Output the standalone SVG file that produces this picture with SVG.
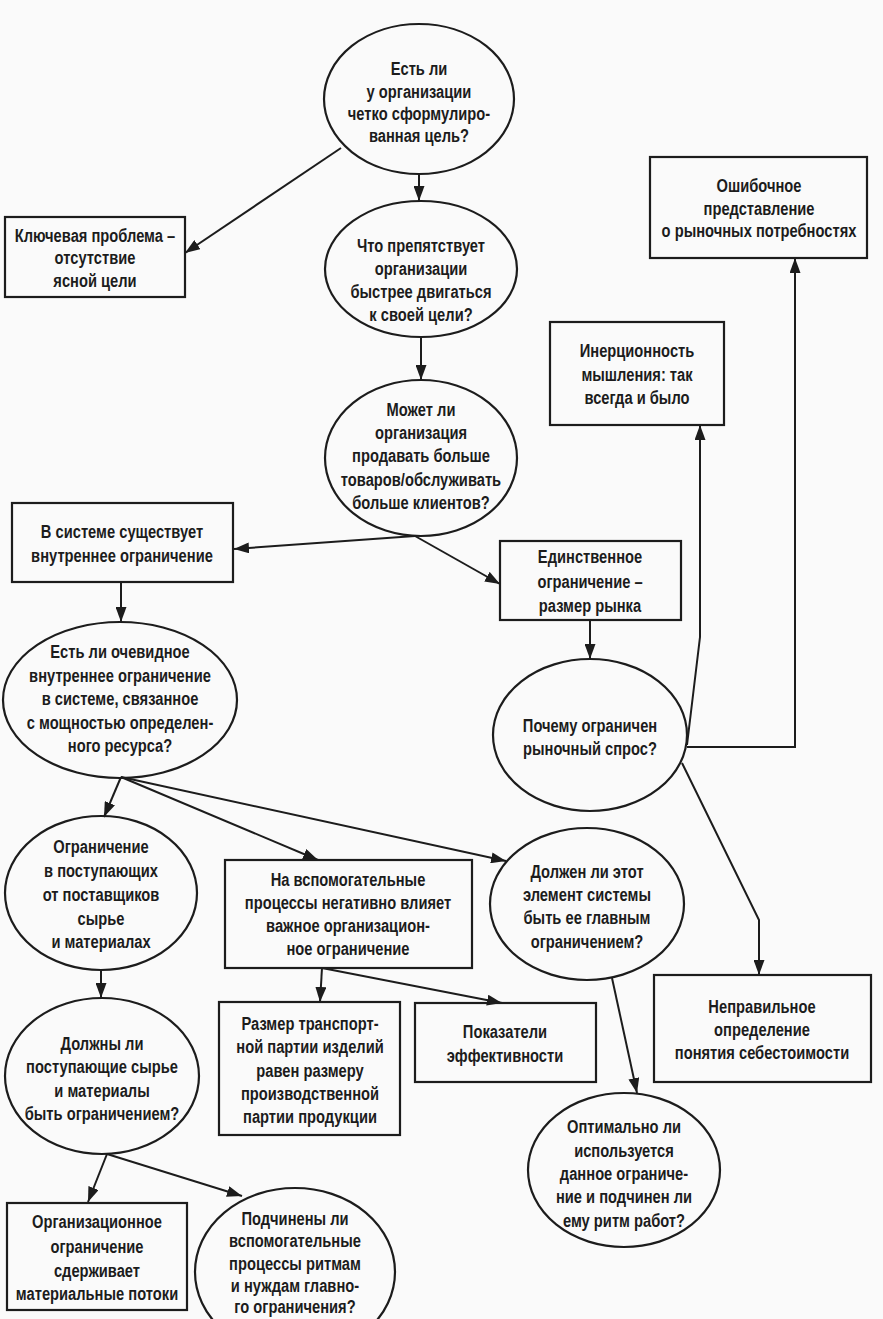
<svg xmlns="http://www.w3.org/2000/svg" width="883" height="1319" viewBox="0 0 883 1319">
<defs>
<marker id="ah" markerUnits="userSpaceOnUse" markerWidth="15" markerHeight="11" refX="15" refY="5.5" orient="auto">
<path d="M0,0 L15,5.5 L0,11 z" fill="#1c1c1c"/>
</marker>
<style>
.s{fill:none;stroke:#1c1c1c;stroke-width:2.2}
.c{fill:none;stroke:#1c1c1c;stroke-width:2;marker-end:url(#ah)}
text{font-family:"Liberation Sans",Arial,sans-serif;font-size:17.5px;font-weight:bold;fill:#1c1c1c;text-anchor:middle}
</style>
</defs>
<rect width="883" height="1319" fill="#fafafa"/>

<g id="connectors">
<path class="c" d="M419,174 L419,201"/>
<path class="c" d="M341,148 L185,253"/>
<path class="c" d="M421,337 L421,380"/>
<path class="c" d="M415,536 L234,549"/>
<path class="c" d="M415,536 L500,584"/>
<path class="c" d="M590,620 L590,659"/>
<path class="c" d="M121,582 L121,622"/>
<path class="c" d="M687,745 L700,637 L700,425"/>
<path class="c" d="M687,747 L795,747 L795,258"/>
<path class="c" d="M682,763 L759,920 L759,975"/>
<path class="c" d="M121,777 L104,817"/>
<path class="c" d="M121,777 L318,860"/>
<path class="c" d="M121,777 L506,861"/>
<path class="c" d="M101,970 L101,998"/>
<path class="c" d="M322,968 L320,1002"/>
<path class="c" d="M322,968 L502,1003"/>
<path class="c" d="M612,978 L637,1093"/>
<path class="c" d="M107,1154 L88,1202"/>
<path class="c" d="M107,1154 L242,1196"/>
</g>

<g id="n1">
<ellipse class="s" cx="419" cy="99" rx="95" ry="75"/>
<g transform="translate(419,0) scale(0.84,1)">
<text x="0" y="75">Есть ли</text>
<text x="0" y="98">у организации</text>
<text x="0" y="120">четко сформулиро-</text>
<text x="0" y="142">ванная цель?</text>
</g>
</g>

<g id="n2">
<ellipse class="s" cx="421" cy="269" rx="96" ry="68"/>
<g transform="translate(421,0) scale(0.84,1)">
<text x="0" y="252">Что препятствует</text>
<text x="0" y="275">организации</text>
<text x="0" y="298">быстрее двигаться</text>
<text x="0" y="321">к своей цели?</text>
</g>
</g>

<g id="n3">
<ellipse class="s" cx="421" cy="458" rx="96" ry="78"/>
<g transform="translate(421,0) scale(0.84,1)">
<text x="0" y="416">Может ли</text>
<text x="0" y="439">организация</text>
<text x="0" y="462">продавать больше</text>
<text x="0" y="486">товаров/обслуживать</text>
<text x="0" y="509">больше клиентов?</text>
</g>
</g>

<g id="key-problem">
<rect class="s" x="5" y="217" width="180" height="80"/>
<g transform="translate(95,0) scale(0.84,1)">
<text x="0" y="242">Ключевая проблема –</text>
<text x="0" y="264">отсутствие</text>
<text x="0" y="287">ясной цели</text>
</g>
</g>

<g id="wrong-market">
<rect class="s" x="650" y="157" width="217" height="101"/>
<g transform="translate(759,0) scale(0.84,1)">
<text x="0" y="192">Ошибочное</text>
<text x="0" y="215">представление</text>
<text x="0" y="237">о рыночных потребностях</text>
</g>
</g>

<g id="inertia">
<rect class="s" x="550" y="322" width="174" height="103"/>
<g transform="translate(637,0) scale(0.84,1)">
<text x="0" y="357">Инерционность</text>
<text x="0" y="381">мышления: так</text>
<text x="0" y="404">всегда и было</text>
</g>
</g>

<g id="internal">
<rect class="s" x="12" y="503" width="221" height="79"/>
<g transform="translate(122,0) scale(0.84,1)">
<text x="0" y="538">В системе существует</text>
<text x="0" y="562">внутреннее ограничение</text>
</g>
</g>

<g id="market-size">
<rect class="s" x="500" y="541" width="181" height="79"/>
<g transform="translate(590,0) scale(0.84,1)">
<text x="0" y="563">Единственное</text>
<text x="0" y="588">ограничение –</text>
<text x="0" y="612">размер рынка</text>
</g>
</g>

<g id="why-demand">
<ellipse class="s" cx="590" cy="735" rx="97" ry="76"/>
<g transform="translate(590,0) scale(0.84,1)">
<text x="0" y="732">Почему ограничен</text>
<text x="0" y="755">рыночный спрос?</text>
</g>
</g>

<g id="n4">
<ellipse class="s" cx="120" cy="700" rx="117" ry="78"/>
<g transform="translate(120,0) scale(0.84,1)">
<text x="0" y="658">Есть ли очевидное</text>
<text x="0" y="682">внутреннее ограничение</text>
<text x="0" y="705">в системе, связанное</text>
<text x="0" y="729">с мощностью определен-</text>
<text x="0" y="752">ного ресурса?</text>
</g>
</g>

<g id="supply">
<ellipse class="s" cx="101" cy="893" rx="96" ry="77"/>
<g transform="translate(101,0) scale(0.84,1)">
<text x="0" y="853">Ограничение</text>
<text x="0" y="877">в поступающих</text>
<text x="0" y="901">от поставщиков</text>
<text x="0" y="925">сырье</text>
<text x="0" y="948">и материалах</text>
</g>
</g>

<g id="support">
<rect class="s" x="225" y="860" width="247" height="108"/>
<g transform="translate(348,0) scale(0.84,1)">
<text x="0" y="886">На вспомогательные</text>
<text x="0" y="909">процессы негативно влияет</text>
<text x="0" y="932">важное организацион-</text>
<text x="0" y="955">ное ограничение</text>
</g>
</g>

<g id="should-be">
<ellipse class="s" cx="587" cy="904" rx="97" ry="76"/>
<g transform="translate(587,0) scale(0.84,1)">
<text x="0" y="878">Должен ли этот</text>
<text x="0" y="901">элемент системы</text>
<text x="0" y="924">быть ее главным</text>
<text x="0" y="948">ограничением?</text>
</g>
</g>

<g id="cost">
<rect class="s" x="654" y="975" width="217" height="107"/>
<g transform="translate(762,0) scale(0.84,1)">
<text x="0" y="1013">Неправильное</text>
<text x="0" y="1036">определение</text>
<text x="0" y="1059">понятия себестоимости</text>
</g>
</g>

<g id="batch">
<rect class="s" x="219" y="1002" width="181" height="133"/>
<g transform="translate(310,0) scale(0.84,1)">
<text x="0" y="1030">Размер транспорт-</text>
<text x="0" y="1053">ной партии изделий</text>
<text x="0" y="1077">равен размеру</text>
<text x="0" y="1100">производственной</text>
<text x="0" y="1123">партии продукции</text>
</g>
</g>

<g id="kpi">
<rect class="s" x="415" y="1003" width="181" height="79"/>
<g transform="translate(505,0) scale(0.84,1)">
<text x="0" y="1038">Показатели</text>
<text x="0" y="1062">эффективности</text>
</g>
</g>

<g id="optimal">
<ellipse class="s" cx="624" cy="1170" rx="96" ry="77"/>
<g transform="translate(624,0) scale(0.84,1)">
<text x="0" y="1133">Оптимально ли</text>
<text x="0" y="1157">используется</text>
<text x="0" y="1180">данное ограниче-</text>
<text x="0" y="1203">ние и подчинен ли</text>
<text x="0" y="1227">ему ритм работ?</text>
</g>
</g>

<g id="materials">
<ellipse class="s" cx="102" cy="1076" rx="97" ry="78"/>
<g transform="translate(102,0) scale(0.84,1)">
<text x="0" y="1050">Должны ли</text>
<text x="0" y="1073">поступающие сырье</text>
<text x="0" y="1097">и материалы</text>
<text x="0" y="1120">быть ограничением?</text>
</g>
</g>

<g id="org-constraint">
<rect class="s" x="7" y="1203" width="180" height="107"/>
<g transform="translate(97,0) scale(0.84,1)">
<text x="0" y="1228">Организационное</text>
<text x="0" y="1253">ограничение</text>
<text x="0" y="1277">сдерживает</text>
<text x="0" y="1300">материальные потоки</text>
</g>
</g>

<g id="subordinate">
<ellipse class="s" cx="295" cy="1272" rx="100" ry="84"/>
<g transform="translate(295,0) scale(0.84,1)">
<text x="0" y="1225">Подчинены ли</text>
<text x="0" y="1247">вспомогательные</text>
<text x="0" y="1270">процессы ритмам</text>
<text x="0" y="1292">и нуждам главно-</text>
<text x="0" y="1313">го ограничения?</text>
</g>
</g>
</svg>
